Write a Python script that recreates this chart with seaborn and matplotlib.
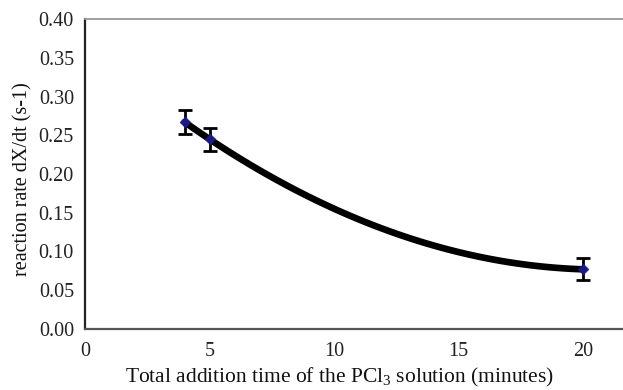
import numpy as np
import pandas as pd
import matplotlib
matplotlib.use("Agg")
import matplotlib.pyplot as plt
import seaborn as sns

sns.set_style("white")
plt.rcParams['font.family'] = ['Liberation Serif', 'DejaVu Serif']
plt.rcParams['mathtext.fontset'] = 'custom'
plt.rcParams['mathtext.rm'] = 'Liberation Serif'
plt.rcParams['mathtext.it'] = 'Liberation Serif:italic'

# data
addition_time = [4, 5, 20]
reaction_rate = [0.267, 0.245, 0.077]
rate_error = [0.015, 0.015, 0.014]
x_ticks = [0, 5, 10, 15, 20]
y_ticks = [0.00, 0.05, 0.10, 0.15, 0.20, 0.25, 0.30, 0.35, 0.40]

df = pd.DataFrame({"time": addition_time, "rate": reaction_rate})

fig = plt.figure(figsize=(6.23, 3.90), dpi=100)
ax = fig.add_axes([85/623, 1 - 329/390, 1 - 85/623, (329 - 19)/390])

sns.regplot(data=df, x="time", y="rate", order=2, ci=None, scatter=False,
            line_kws=dict(color="black", lw=4.8, solid_capstyle="round"), ax=ax)
ax.errorbar(addition_time, reaction_rate, yerr=rate_error, fmt="none",
            ecolor="black", elinewidth=2, capsize=5, capthick=2, zorder=3)
sns.scatterplot(data=df, x="time", y="rate", marker="D", s=30, color="#1a1a80",
                edgecolor="#1a1a80", zorder=4, ax=ax)

ax.set_xlim(0, 538/24.9)
ax.set_ylim(0, 0.40)
ax.set_xticks(x_ticks)
ax.set_xticklabels([str(t) for t in x_ticks])
ax.set_yticks(y_ticks)
ax.set_yticklabels([f"{v:.2f}" for v in y_ticks])
ax.tick_params(axis="both", which="major", direction="out", length=5, width=1,
               labelsize=14.5, color="#333333", labelcolor="#222222", pad=3)
ax.tick_params(axis="x", pad=4)

ax.spines["left"].set_color("#222222")
ax.spines["left"].set_linewidth(1.6)
ax.spines["bottom"].set_color("#555555")
ax.spines["bottom"].set_linewidth(1.6)
ax.spines["top"].set_color("#999999")
ax.spines["top"].set_linewidth(1.3)
ax.spines["right"].set_visible(False)

ax.set_xlabel("Total addition time of the PCl$_3$ solution (minutes)", fontsize=15.5,
              color="#111111")
ax.set_ylabel("reaction rate dX/dt (s-1)", fontsize=14.5, color="#111111")
ax.xaxis.set_label_coords(0.473, -0.118)
ax.yaxis.set_label_coords(-0.097, 0.485)

fig.savefig("out.png", dpi=100)
